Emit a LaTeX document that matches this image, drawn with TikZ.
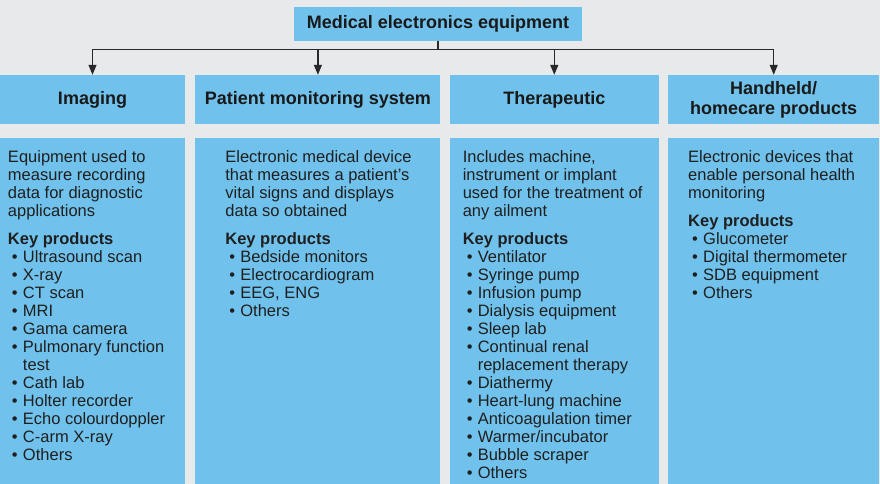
\documentclass[tikz,border=0pt]{standalone}
\usepackage{fontspec}
\setmainfont{Liberation Sans}
\usetikzlibrary{arrows.meta}
\usetikzlibrary{positioning}

\definecolor{panelblue}{RGB}{112,194,236}
\definecolor{pagegrey}{RGB}{232,233,235}
\definecolor{inkgrey}{RGB}{40,40,40}

\newcommand{\bul}{\makebox[15pt][l]{\hspace*{4pt}\textbullet}}
\newcommand{\keyp}{\\[10pt]\textbf{Key products}}

\tikzset{
  headbox/.style={fill=panelblue,minimum height=49pt,inner sep=0pt,align=center,
    font=\fontsize{18}{20}\selectfont\bfseries,text=black!90},
  bodybox/.style={fill=panelblue,minimum height=346pt,inner sep=0pt},
  bodytext/.style={anchor=north west,inner sep=0pt,align=left,
    font=\fontsize{16.5}{18}\selectfont,text=black!88},
  busline/.style={draw=inkgrey,line width=1.2pt,->,to path={-- ++(0,-8) -| (\tikztotarget)}},
}

\begin{document}
\begin{tikzpicture}[x=1pt,y=1pt,>={Triangle[width=8pt,length=10pt]},node distance=9pt]

      \fill[pagegrey] (0,0) rectangle (880,-484);
      \useasboundingbox (0,0) rectangle (880,-484);

      \node (top) [headbox,minimum width=288pt,minimum height=34pt] at (438,-24) {Medical electronics equipment};

      \node (imaging) [headbox,minimum width=185pt] at (92.5,-99.5) {Imaging};
      \node (patient) [headbox,minimum width=245pt,right=10pt of imaging] {Patient monitoring system};
      \node (thera) [headbox,minimum width=209pt,right=of patient] {Therapeutic};
      \node (hand) [headbox,minimum width=211pt,right=of thera] {Handheld/\\homecare products};

      \node (imagingbody) [bodybox,minimum width=185pt,below=14pt of imaging] {};
      \node (patientbody) [bodybox,minimum width=245pt,below=14pt of patient] {};
      \node (therabody) [bodybox,minimum width=209pt,below=14pt of thera] {};
      \node (handbody) [bodybox,minimum width=211pt,below=14pt of hand] {};

      \path
        (top.south) edge [busline] (imaging.north)
                    edge [busline] (patient.north)
                    edge [busline] (thera.north)
                    edge [busline] (hand.north);

      \node (imagingtext) [bodytext] at ([shift={(8,-12)}]imagingbody.north west)
        {Equipment used to\\measure recording\\data for diagnostic\\applications\keyp\\
         \bul Ultrasound scan\\\bul X-ray\\\bul CT scan\\\bul MRI\\\bul Gama camera\\
         \bul Pulmonary function\\\hspace*{15pt}test\\\bul Cath lab\\\bul Holter recorder\\
         \bul Echo colourdoppler\\\bul C-arm X-ray\\\bul Others};
      \node (patienttext) [bodytext] at ([shift={(30,-12)}]patientbody.north west)
        {Electronic medical device\\that measures a patient's\\vital signs and displays\\data so obtained\keyp\\
         \bul Bedside monitors\\\bul Electrocardiogram\\\bul EEG, ENG\\\bul Others};
      \node (theratext) [bodytext] at ([shift={(13,-12)}]therabody.north west)
        {Includes machine,\\instrument or implant\\used for the treatment of\\any ailment\keyp\\
         \bul Ventilator\\\bul Syringe pump\\\bul Infusion pump\\\bul Dialysis equipment\\
         \bul Sleep lab\\\bul Continual renal\\\hspace*{15pt}replacement therapy\\\bul Diathermy\\
         \bul Heart-lung machine\\\bul Anticoagulation timer\\\bul Warmer/incubator\\
         \bul Bubble scraper\\\bul Others};
      \node (handtext) [bodytext] at ([shift={(20,-12)}]handbody.north west)
        {Electronic devices that\\enable personal health\\monitoring\keyp\\
         \bul Glucometer\\\bul Digital thermometer\\\bul SDB equipment\\\bul Others};
\end{tikzpicture}
\end{document}
